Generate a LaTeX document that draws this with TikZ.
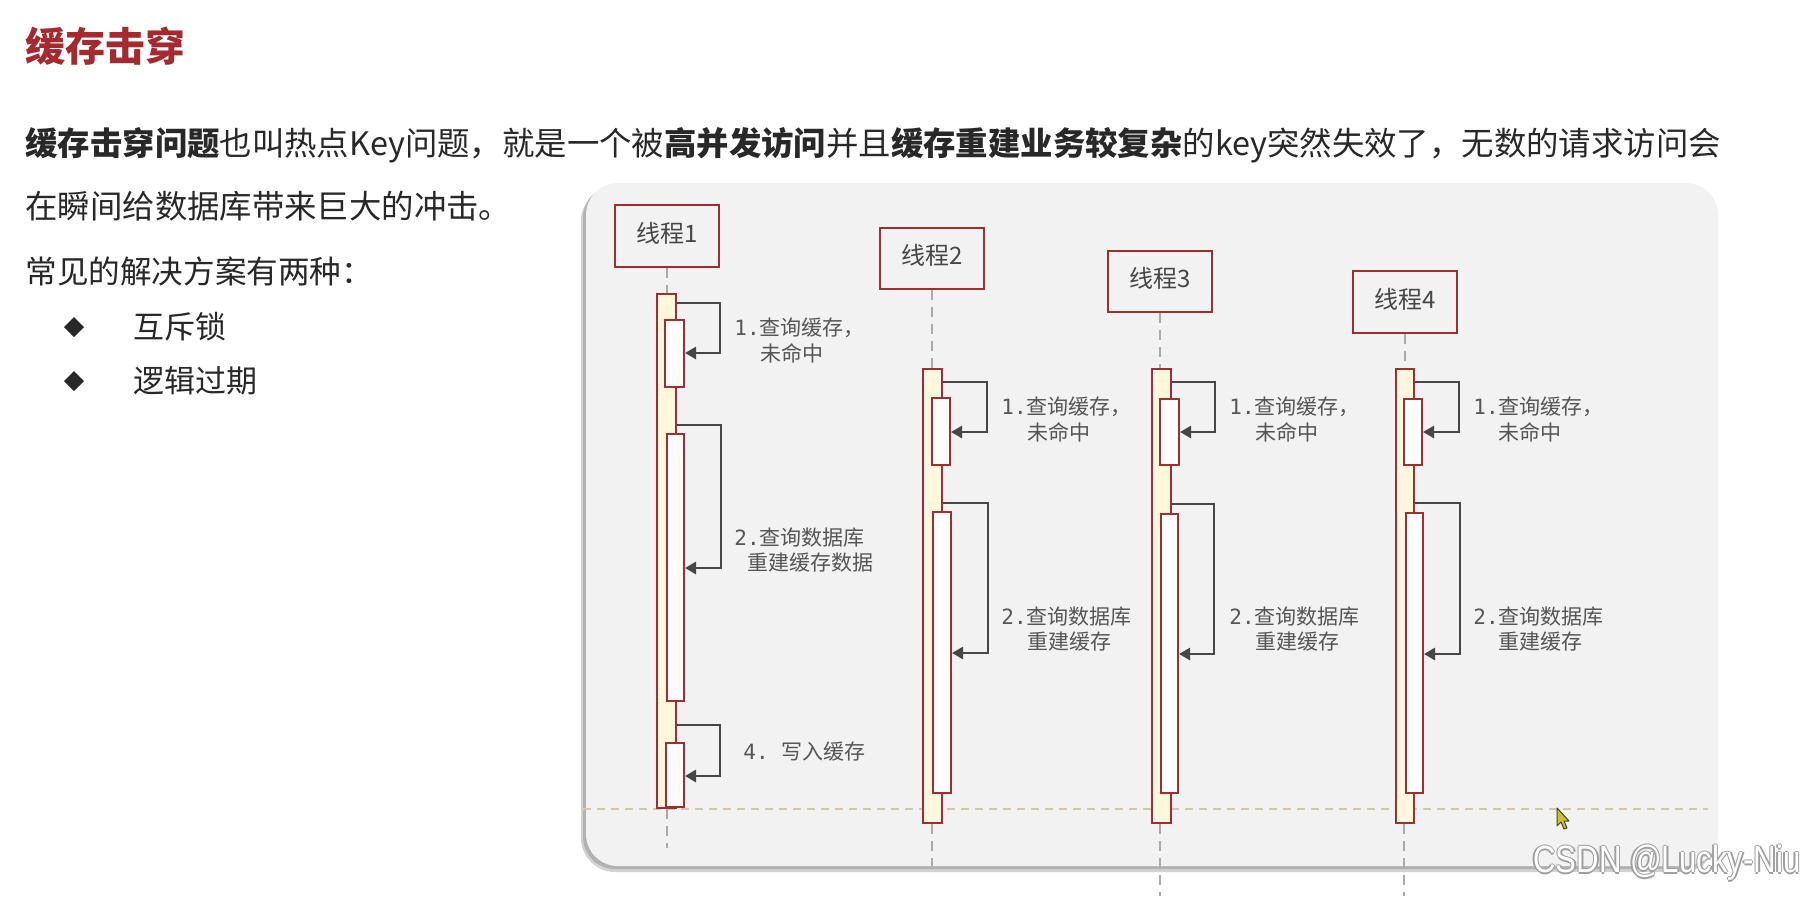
\documentclass[tikz,border=0pt]{standalone}
\usepackage{fontspec}
\setmainfont{Noto Sans CJK SC}
\newfontfamily\monof{DejaVu Sans Mono}
\newfontfamily\wmfont{Liberation Sans}
\usetikzlibrary{arrows.meta,fit}
\definecolor{titlered}{RGB}{165,42,48}
\definecolor{bodytext}{RGB}{40,40,40}
\definecolor{panelgray}{RGB}{242,242,242}
\definecolor{boxred}{RGB}{160,45,50}
\definecolor{cream}{RGB}{255,246,222}
\definecolor{innerwhite}{RGB}{255,252,250}
\definecolor{arrowgray}{RGB}{70,70,70}
\definecolor{lifegray}{RGB}{170,170,170}
\definecolor{lblgray}{RGB}{85,85,85}
\definecolor{horizc}{RGB}{210,200,175}
\definecolor{headtext}{RGB}{70,70,70}
\newcommand{\headtxt}[1]{\raisebox{-7.3pt}{#1}}
\begin{document}
\begin{tikzpicture}[x=0.5pt,y=-0.5pt,
 headbox/.style={draw=boxred, line width=1.3pt, fill=panelgray, inner sep=0pt, text=headtext, text height=0pt, text depth=0pt, font=\fontsize{12pt}{13pt}\selectfont},
 outerbar/.style={draw=boxred, line width=1pt, fill=cream, inner sep=0pt},
 innerbar/.style={draw=boxred, line width=1pt, fill=innerwhite, inner sep=0pt},
 msg/.style={draw=arrowgray, line width=1.3pt, -{Triangle[length=5.5pt,width=6pt]}},
 life/.style={draw=lifegray, line width=0.75pt, dash pattern=on 5pt off 3.5pt},
 lbl/.style={anchor=west, inner sep=0pt, text=lblgray, font=\fontsize{10.5pt}{12pt}\selectfont},
 body/.style={anchor=west, inner sep=0pt, text=bodytext, font=\fontsize{16.2pt}{19pt}\selectfont},
]
\useasboundingbox (0,0) rectangle (1817,896);
\fill[white] (0,0) rectangle (1817,896);

% ---- left text ----
\node[anchor=west, inner sep=0pt, text=titlered, font=\fontsize{20pt}{23pt}\selectfont\bfseries] (title) at (25,46) {缓存击穿};
\node[body] (p1) at (25,145) {{\bfseries 缓存击穿问题}也叫热点Key问题，就是一个被{\bfseries 高并发访问}并且{\bfseries 缓存重建业务较复杂}的key突然失效了，无数的请求访问会};
\node[body] (p2) at (25,206) {在瞬间给数据库带来巨大的冲击。};
\node[body, font=\fontsize{15.8pt}{19pt}\selectfont] (p3) at (25,271) {常见的解决方案有两种：};
\fill[bodytext] (64,327) -- (74,317) -- (84,327) -- (74,337) -- cycle;
\fill[bodytext] (64,381) -- (74,371) -- (84,381) -- (74,391) -- cycle;
\node[body, font=\fontsize{15.5pt}{19pt}\selectfont] (b1) at (133,327) {互斥锁};
\node[body, font=\fontsize{15.5pt}{19pt}\selectfont] (b2) at (133,381) {逻辑过期};

% ---- panel ----
\fill[gray!35, rounded corners=17pt] (581,187) rectangle (1716,872);
\fill[gray!60, rounded corners=16pt] (583,186) rectangle (1716,869);
\fill[panelgray, rounded corners=16pt] (586,183) rectangle (1718,866);

% ---- head boxes ----
\node[headbox, fit={(615,205) (719,267)}] (h1) {\headtxt{线程1}};
\node[headbox, fit={(880,228) (984,289)}] (h2) {\headtxt{线程2}};
\node[headbox, fit={(1108,251) (1212,312)}] (h3) {\headtxt{线程3}};
\node[headbox, fit={(1353,271) (1457,333)}] (h4) {\headtxt{线程4}};

% ---- coordinates for lifeline ends ----
\coordinate (e1) at (667,848);
\coordinate (e2) at (932,866);
\coordinate (e3) at (1160,896);
\coordinate (e4) at (1404,896);
\coordinate (hl0) at (583,809);
\coordinate (hl1) at (1708,809);

% horizontal dashed line
\draw[horizc, line width=0.75pt, dash pattern=on 4pt off 3pt] (hl0) -- (hl1);

% ---- activation bars (outer) ----
\node[outerbar, fit={(657,294) (676,808)}] (o1) {};
\node[outerbar, fit={(923,369) (942,823)}] (o2) {};
\node[outerbar, fit={(1152,369) (1171,823)}] (o3) {};
\node[outerbar, fit={(1396,369) (1414,823)}] (o4) {};

% lifelines
\draw[life] (h1.south) -- (h1.south |- o1.north);
\draw[life] (h2.south) -- (h2.south |- o2.north);
\draw[life] (h3.south) -- (h3.south |- o3.north);
\draw[life] (h4.south) -- (h4.south |- o4.north);
\draw[life] (e1 |- o1.south) -- (e1);
\draw[life] (e2 |- o2.south) -- (e2);
\draw[life] (e3 |- o3.south) -- (e3);
\draw[life] (e4 |- o4.south) -- (e4);

% ---- inner bars ----
\node[innerbar, fit={(665,320) (684,387)}] (i1a) {};
\node[innerbar, fit={(667,434) (684,701)}] (i1b) {};
\node[innerbar, fit={(666,743) (684,807)}] (i1c) {};
\node[innerbar, fit={(932,398) (950,465)}] (i2a) {};
\node[innerbar, fit={(933,512) (951,793)}] (i2b) {};
\node[innerbar, fit={(1160,399) (1179,465)}] (i3a) {};
\node[innerbar, fit={(1161,514) (1178,793)}] (i3b) {};
\node[innerbar, fit={(1404,399) (1422,465)}] (i4a) {};
\node[innerbar, fit={(1406,513) (1423,793)}] (i4b) {};

% ---- self messages ----
\coordinate (a1s) at (720,303); \coordinate (a1e) at (720,353);
\coordinate (b1s) at (721,425); \coordinate (b1e) at (721,568);
\coordinate (c1s) at (720,725); \coordinate (c1e) at (720,776);
\coordinate (a2s) at (987,382); \coordinate (a2e) at (987,432);
\coordinate (b2s) at (988,503); \coordinate (b2e) at (988,653);
\coordinate (a3s) at (1215,382); \coordinate (a3e) at (1215,432);
\coordinate (b3s) at (1214,504); \coordinate (b3e) at (1214,654);
\coordinate (a4s) at (1459,382); \coordinate (a4e) at (1459,432);
\coordinate (b4s) at (1460,503); \coordinate (b4e) at (1460,654);

\draw[msg] (o1.east |- a1s) -- (a1s) -- (a1e) -- (i1a.east |- a1e);
\draw[msg] (o1.east |- b1s) -- (b1s) -- (b1e) -- (i1b.east |- b1e);
\draw[msg] (o1.east |- c1s) -- (c1s) -- (c1e) -- (i1c.east |- c1e);
\draw[msg] (o2.east |- a2s) -- (a2s) -- (a2e) -- (i2a.east |- a2e);
\draw[msg] (o2.east |- b2s) -- (b2s) -- (b2e) -- (i2b.east |- b2e);
\draw[msg] (o3.east |- a3s) -- (a3s) -- (a3e) -- (i3a.east |- a3e);
\draw[msg] (o3.east |- b3s) -- (b3s) -- (b3e) -- (i3b.east |- b3e);
\draw[msg] (o4.east |- a4s) -- (a4s) -- (a4e) -- (i4a.east |- a4e);
\draw[msg] (o4.east |- b4s) -- (b4s) -- (b4e) -- (i4b.east |- b4e);

% ---- labels ----
\node[lbl] (l1a) at (734,328) {{\monof 1.}查询缓存，};
\node[lbl] (l1b) at (760,353) {未命中};
\node[lbl] (l1c) at (734,538) {{\monof 2.}查询数据库};
\node[lbl] (l1d) at (747,563) {重建缓存数据};
\node[lbl] (l1e) at (743,752) {{\monof 4.\ }写入缓存};

\node[lbl] (l2a) at (1001,407) {{\monof 1.}查询缓存，};
\node[lbl] (l2b) at (1027,432) {未命中};
\node[lbl] (l2c) at (1001,617) {{\monof 2.}查询数据库};
\node[lbl] (l2d) at (1027,642) {重建缓存};

\node[lbl] (l3a) at (1229,407) {{\monof 1.}查询缓存，};
\node[lbl] (l3b) at (1255,432) {未命中};
\node[lbl] (l3c) at (1229,617) {{\monof 2.}查询数据库};
\node[lbl] (l3d) at (1255,642) {重建缓存};

\node[lbl] (l4a) at (1473,407) {{\monof 1.}查询缓存，};
\node[lbl] (l4b) at (1498,432) {未命中};
\node[lbl] (l4c) at (1473,617) {{\monof 2.}查询数据库};
\node[lbl] (l4d) at (1498,642) {重建缓存};

% ---- mouse cursor ----
\filldraw[fill={rgb,255:red,200;green,195;blue,50}, draw={rgb,255:red,70;green,70;blue,30}, line width=0.5pt, line join=round]
 (1557,808) -- (1557,826) -- (1561,822) -- (1564,829) -- (1567,828) -- (1564,821) -- (1569,821) -- cycle;

% ---- watermark ----
\foreach \dx/\dy/\nm in {-1.5/0/wma, 1.5/0/wmb, 0/-1.5/wmc, 0/1.5/wmd}{
 \node[anchor=west, inner sep=0pt, text=gray!75, font=\wmfont\fontsize{19pt}{22pt}\selectfont] (\nm) at (1533+\dx,863+\dy) {\scalebox{0.82}[1]{CSDN @Lucky-Niu}};
}
\node[anchor=west, inner sep=0pt, text=white, font=\wmfont\fontsize{19pt}{22pt}\selectfont] (wm) at (1533,863) {\scalebox{0.82}[1]{CSDN @Lucky-Niu}};
\end{tikzpicture}
\end{document}
